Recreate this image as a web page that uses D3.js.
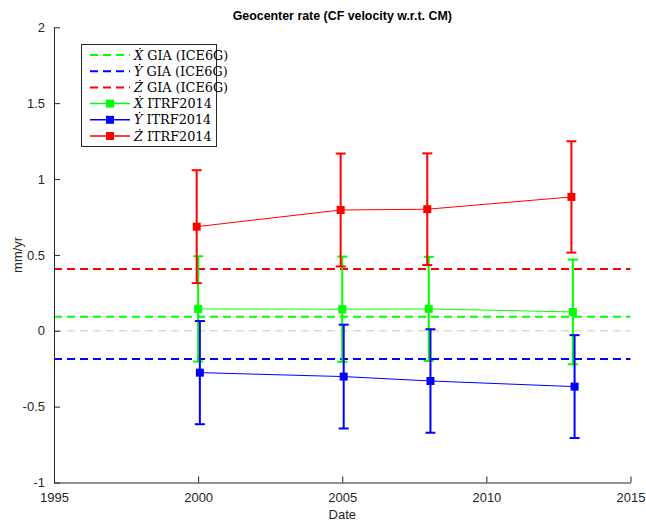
<!DOCTYPE html>
<html>
<head>
<meta charset="utf-8">
<script src="https://cdn.jsdelivr.net/npm/d3@7"></script>
<style>
  body { margin: 0; background: #fff; }
  svg { display: block; }
</style>
</head>
<body>
<div id="chart"></div>
<script>
// Dữ liệu
const xDates = [2000.0, 2005.0, 2008.0, 2013.0];
const yDates = [2000.06, 2005.05, 2008.06, 2013.06];
const zDates = [1999.95, 2004.945, 2007.95, 2012.95];

const xRate = [0.144, 0.142, 0.144, 0.124];
const xErr  = [0.347, 0.347, 0.343, 0.345];
const yRate = [-0.276, -0.302, -0.331, -0.368];
const yErr  = [0.340, 0.342, 0.341, 0.339];
const zRate = [0.686, 0.796, 0.801, 0.882];
const zErr  = [0.372, 0.372, 0.368, 0.367];

const giaX = 0.093, giaY = -0.186, giaZ = 0.407;

const xTicks = [1995, 2000, 2005, 2010, 2015];
const yTicks = [-1, -0.5, 0, 0.5, 1, 1.5, 2];

const W = 646, H = 522;
const margin = { top: 27.3, right: 15.5, bottom: 39.5, left: 54 };
const width = W - margin.left - margin.right;
const height = H - margin.top - margin.bottom;

const svg = d3.select("#chart").append("svg")
  .attr("width", W).attr("height", H)
  .style("font-family", "'Liberation Sans', Arial, sans-serif");

const g = svg.append("g").attr("transform", `translate(${margin.left},${margin.top})`);

const x = d3.scaleLinear().domain([1995, 2015]).range([0, width]);
const y = d3.scaleLinear().domain([-1, 2]).range([height, 0]);

// Đường 0 màu xám
g.append("line")
  .attr("x1", x(1995)).attr("x2", x(2015))
  .attr("y1", y(0)).attr("y2", y(0))
  .attr("stroke", "#d9d9d9").attr("stroke-width", 1.5)
  .attr("stroke-dasharray", "8,5");

// Các đường GIA
[[giaX, "#00ff00"], [giaY, "#0000ff"], [giaZ, "#ff0000"]].forEach(([v, c]) => {
  g.append("line")
    .attr("x1", x(1995)).attr("x2", x(2015))
    .attr("y1", y(v)).attr("y2", y(v))
    .attr("stroke", c).attr("stroke-width", 2)
    .attr("stroke-dasharray", "8,5");
});

// Chuỗi ITRF2014
const series = [
  { dates: xDates, vals: xRate, errs: xErr, color: "#00ff00" },
  { dates: yDates, vals: yRate, errs: yErr, color: "#0000ff" },
  { dates: zDates, vals: zRate, errs: zErr, color: "#ff0000" }
];

series.forEach(s => {
  const pts = s.dates.map((d, i) => ({ d, v: s.vals[i], e: s.errs[i] }));
  const line = d3.line().x(p => x(p.d)).y(p => y(p.v));
  g.append("path").datum(pts)
    .attr("fill", "none").attr("stroke", s.color).attr("stroke-width", 1)
    .attr("d", line);

  const eb = g.append("g").attr("stroke", s.color).attr("stroke-width", 2);
  eb.selectAll(".bar").data(pts).enter().append("line")
    .attr("x1", p => x(p.d)).attr("x2", p => x(p.d))
    .attr("y1", p => y(p.v - p.e)).attr("y2", p => y(p.v + p.e));
  eb.selectAll(".capT").data(pts).enter().append("line")
    .attr("x1", p => x(p.d) - 5).attr("x2", p => x(p.d) + 5)
    .attr("y1", p => y(p.v + p.e)).attr("y2", p => y(p.v + p.e));
  eb.selectAll(".capB").data(pts).enter().append("line")
    .attr("x1", p => x(p.d) - 5).attr("x2", p => x(p.d) + 5)
    .attr("y1", p => y(p.v - p.e)).attr("y2", p => y(p.v - p.e));

  g.selectAll(null).data(pts).enter().append("rect")
    .attr("x", p => x(p.d) - 4).attr("y", p => y(p.v) - 4)
    .attr("width", 8).attr("height", 8)
    .attr("fill", s.color);
});

// Trục
const axisColor = "#262626";
const gx = g.append("g").attr("transform", `translate(0,${height})`)
  .call(d3.axisBottom(x).tickValues(xTicks).tickFormat(d => String(d)).tickSizeInner(-6).tickSizeOuter(0).tickPadding(10));
const gy = g.append("g")
  .call(d3.axisLeft(y).tickValues(yTicks).tickFormat(d => String(d)).tickSizeInner(-6).tickSizeOuter(0).tickPadding(9));
[gx, gy].forEach(a => {
  a.select(".domain").attr("stroke", axisColor);
  a.selectAll(".tick line").attr("stroke", axisColor);
  a.selectAll(".tick text").attr("fill", axisColor).style("font-size", "13px")
    .style("font-family", "'Liberation Sans', Arial, sans-serif");
});

// Tiêu đề và nhãn trục
svg.append("text")
  .attr("x", margin.left + width / 2).attr("y", 20)
  .attr("text-anchor", "middle")
  .style("font-size", "12.4px").style("font-weight", "bold").attr("fill", "#000")
  .text("Geocenter rate (CF velocity w.r.t. CM)");

svg.append("text")
  .attr("x", margin.left + width / 2).attr("y", 519)
  .attr("text-anchor", "middle")
  .style("font-size", "13px").attr("fill", axisColor)
  .text("Date");

svg.append("text")
  .attr("transform", `translate(22,${margin.top + height / 2}) rotate(-90)`)
  .attr("text-anchor", "middle")
  .style("font-size", "13px").attr("fill", axisColor)
  .text("mm/yr");

// Chú giải
const legendItems = [
  { sym: "\u1E8A", label: " GIA (ICE6G)", color: "#00ff00", dashed: true },
  { sym: "\u1E8E", label: " GIA (ICE6G)", color: "#0000ff", dashed: true },
  { sym: "\u017B", label: " GIA (ICE6G)", color: "#ff0000", dashed: true },
  { sym: "\u1E8A", label: " ITRF2014", color: "#00ff00", dashed: false },
  { sym: "\u1E8E", label: " ITRF2014", color: "#0000ff", dashed: false },
  { sym: "\u017B", label: " ITRF2014", color: "#ff0000", dashed: false }
];

const lg = svg.append("g");
lg.append("rect")
  .attr("x", 81.5).attr("y", 44.5).attr("width", 135).attr("height", 102)
  .attr("fill", "#fff").attr("stroke", axisColor).attr("stroke-width", 1);

legendItems.forEach((it, i) => {
  const ly = 55 + i * 16.2;
  lg.append("line")
    .attr("x1", 90).attr("x2", 130).attr("y1", ly).attr("y2", ly)
    .attr("stroke", it.color).attr("stroke-width", it.dashed ? 2 : 1.5)
    .attr("stroke-dasharray", it.dashed ? "8,5" : null);
  if (!it.dashed) {
    lg.append("rect").attr("x", 106).attr("y", ly - 4).attr("width", 8).attr("height", 8)
      .attr("fill", it.color);
  }
  const t = lg.append("text")
    .attr("x", 134).attr("y", ly + 4.5)
    .style("font-family", "'DejaVu Serif', 'Liberation Serif', serif")
    .style("font-size", "12.8px").attr("fill", "#000");
  t.append("tspan").style("font-style", "italic").text(it.sym);
  t.append("tspan").text(it.label);
});
</script>
</body>
</html>
